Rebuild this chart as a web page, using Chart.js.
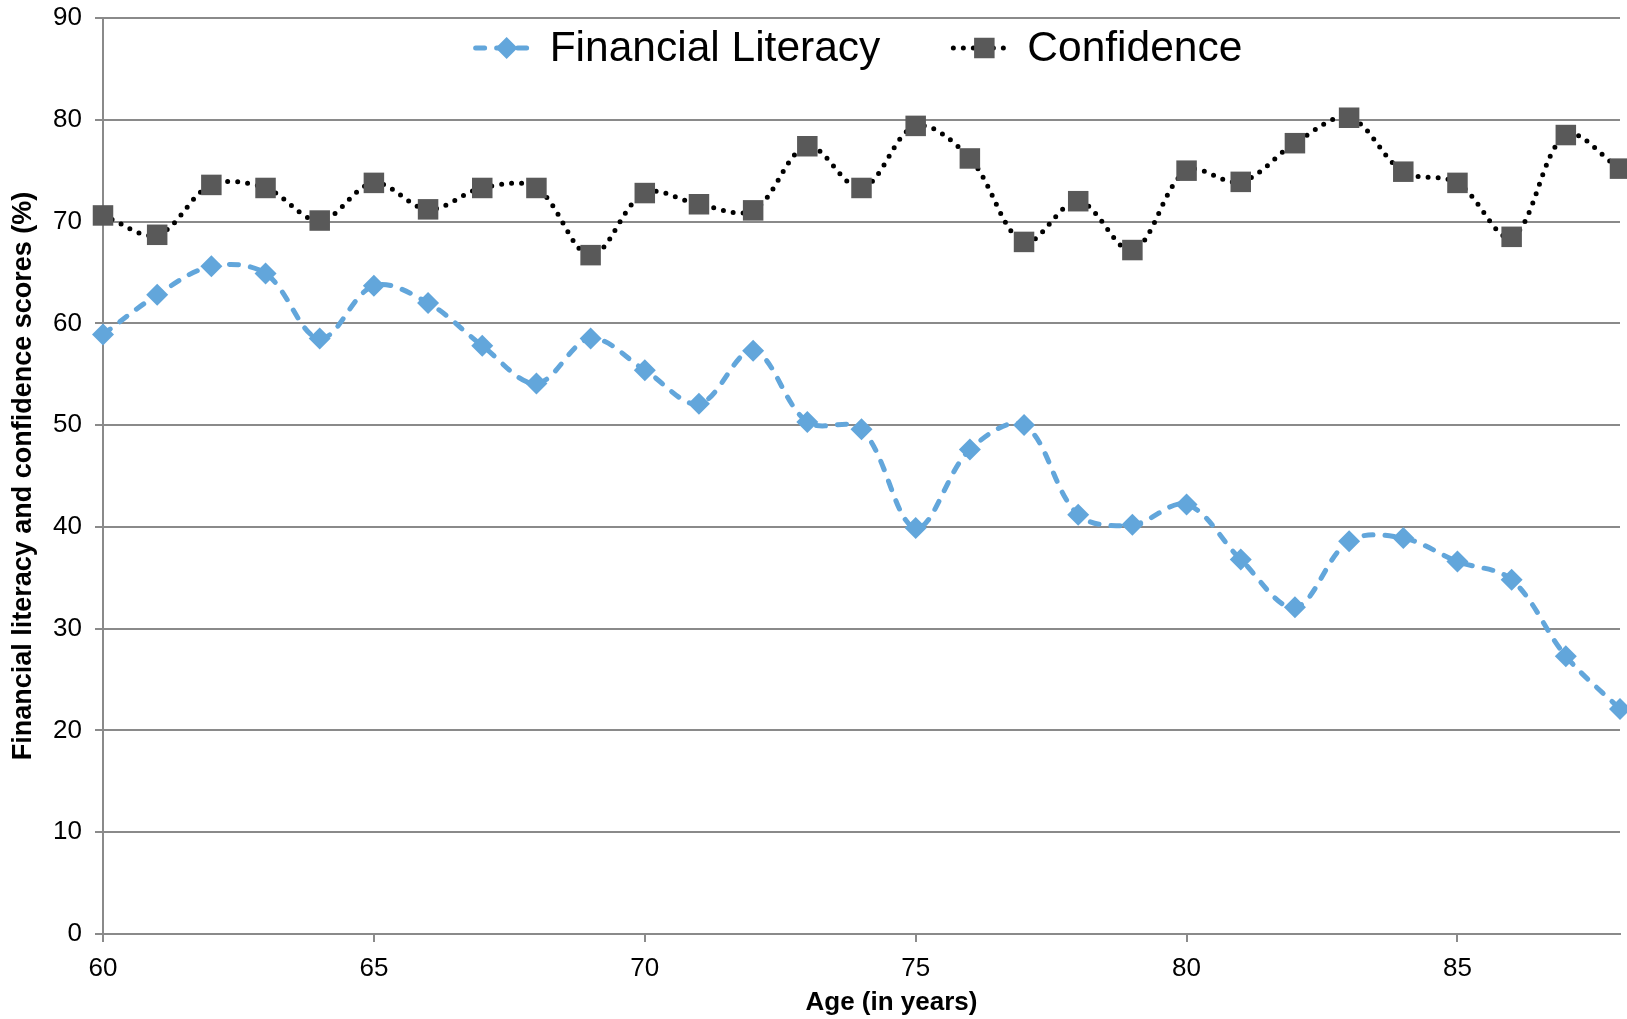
<!DOCTYPE html>
<html>
<head>
<meta charset="utf-8">
<title>Financial literacy and confidence by age</title>
<script src="https://cdn.jsdelivr.net/npm/chart.js@4.4.1/dist/chart.umd.min.js"></script>
<style>
  html, body { margin: 0; padding: 0; background: #ffffff; overflow: hidden; }
  #wrap { position: relative; width: 1627px; height: 1019px; }
  #wrap canvas { display: block; }
</style>
</head>
<body>
<div id="wrap"><canvas id="chart"></canvas></div>
<script>
// Age in years (x values)
const ages = [60, 61, 62, 63, 64, 65, 66, 67, 68, 69, 70, 71, 72, 73, 74,
              75, 76, 77, 78, 79, 80, 81, 82, 83, 84, 85, 86, 87, 88];

// Financial literacy score (%) per age
const literacy = [58.9, 62.8, 65.6, 64.9, 58.5, 63.7, 62.0, 57.8, 54.1, 58.5, 55.4, 52.1, 57.3, 50.3, 49.6,
                  39.9, 47.6, 50.0, 41.2, 40.2, 42.2, 36.8, 32.1, 38.6, 38.9, 36.6, 34.8, 27.3, 22.1];

// Confidence score (%) per age
const confidence = [70.6, 68.7, 73.6, 73.3, 70.1, 73.8, 71.2, 73.3, 73.3, 66.7, 72.8, 71.7, 71.1, 77.4, 73.3,
                    79.4, 76.2, 68.0, 72.0, 67.2, 75.0, 73.9, 77.7, 80.2, 74.9, 73.8, 68.5, 78.5, 75.2];

// Axis tick labels
const xTickValues = [60, 65, 70, 75, 80, 85];
const yTickValues = [0, 10, 20, 30, 40, 50, 60, 70, 80, 90];

const seriesNames = ['Financial Literacy', 'Confidence'];
const xAxisTitle = 'Age (in years)';
const yAxisTitle = 'Financial literacy and confidence scores (%)';

const FONT = '"Liberation Sans", Arial, Helvetica, sans-serif';
const GRID = '#8a8a8a';
const BLUE = '#62a6db';
const DARK = '#595959';

function toPoints(values) {
  return ages.map((a, i) => ({ x: a, y: values[i] }));
}

// Legend drawn inside the plot (line sample + marker + label) and the x-axis title
const annotations = {
  id: 'annotations',
  afterDraw(chart) {
    const ctx = chart.ctx;
    const area = chart.chartArea;
    const sampleW = 62, boxGap = 15, itemGap = 70, cy = 48;
    ctx.save();
    ctx.font = '42.5px ' + FONT;
    const items = chart.data.datasets.map(ds => ({ ds, w: ctx.measureText(ds.label).width }));
    const total = items.reduce((s, it) => s + sampleW + boxGap + it.w, 0) + itemGap * (items.length - 1);
    let x = (area.left + area.right) / 2 - 4 - total / 2;
    items.forEach(it => {
      const ds = it.ds;
      ctx.strokeStyle = ds.borderColor;
      ctx.lineWidth = ds.borderWidth;
      ctx.lineCap = ds.borderCapStyle;
      ctx.setLineDash(ds.borderDash);
      ctx.beginPath();
      ctx.moveTo(x + 3, cy);
      ctx.lineTo(x + sampleW - 3, cy);
      ctx.stroke();
      ctx.setLineDash([]);
      const mx = x + sampleW / 2 + 3;
      const r = ds.pointRadius;
      ctx.fillStyle = ds.pointBackgroundColor;
      ctx.beginPath();
      if (ds.pointStyle === 'rectRot') {
        ctx.moveTo(mx - r, cy); ctx.lineTo(mx, cy - r); ctx.lineTo(mx + r, cy); ctx.lineTo(mx, cy + r);
      } else {
        const h = r * Math.SQRT1_2;
        ctx.rect(mx - h, cy - h, 2 * h, 2 * h);
      }
      ctx.closePath();
      ctx.fill();
      ctx.fillStyle = '#000000';
      ctx.textBaseline = 'middle';
      ctx.textAlign = 'left';
      ctx.fillText(ds.label, x + sampleW + boxGap, cy + 1);
      x += sampleW + boxGap + it.w + itemGap;
    });

    // x-axis title, set a little right of the plot centre
    ctx.font = 'bold 26px ' + FONT;
    ctx.textAlign = 'center';
    ctx.textBaseline = 'middle';
    ctx.fillText(xAxisTitle, (area.left + area.right) / 2 + 30, 1003);
    ctx.restore();
  }
};

new Chart(document.getElementById('chart'), {
  type: 'line',
  data: {
    datasets: [
      {
        label: seriesNames[0],
        data: toPoints(literacy),
        borderColor: BLUE,
        borderWidth: 5,
        borderDash: [9, 12],
        borderCapStyle: 'round',
        tension: 0.35,
        pointStyle: 'rectRot',
        pointRadius: 11,
        pointBackgroundColor: BLUE,
        pointBorderWidth: 0,
        clip: false
      },
      {
        label: seriesNames[1],
        data: toPoints(confidence),
        borderColor: '#000000',
        borderWidth: 5,
        borderDash: [0, 10],
        borderCapStyle: 'round',
        tension: 0.35,
        pointStyle: 'rect',
        pointRadius: 14.5,
        pointBackgroundColor: DARK,
        pointBorderWidth: 0,
        clip: false
      }
    ]
  },
  options: {
    responsive: true,
    maintainAspectRatio: false,
    animation: false,
    devicePixelRatio: 1,
    events: [],
    layout: { autoPadding: false, padding: { left: 0, right: 7, top: 18, bottom: 0 } },
    plugins: {
      legend: { display: false },
      tooltip: { enabled: false }
    },
    scales: {
      x: {
        type: 'linear',
        min: 60,
        max: 88,
        afterBuildTicks: s => { s.ticks = xTickValues.map(v => ({ value: v })); },
        afterFit: s => { s.height = 85; s.paddingRight = 0; },
        grid: { display: true, drawOnChartArea: false, drawTicks: true, tickLength: 8, color: GRID, lineWidth: 2 },
        border: { display: true, color: GRID, width: 2 },
        ticks: { color: '#000000', padding: 11, font: { family: FONT, size: 26 } },
        title: { display: false }
      },
      y: {
        type: 'linear',
        min: 0,
        max: 90,
        afterBuildTicks: s => { s.ticks = yTickValues.map(v => ({ value: v })); },
        afterFit: s => { s.width = 103; s.paddingTop = 0; s.paddingBottom = 0; },
        grid: { display: true, drawTicks: true, tickLength: 8, color: GRID, lineWidth: 2 },
        border: { display: true, color: GRID, width: 2 },
        ticks: { color: '#000000', padding: 13, font: { family: FONT, size: 26 } },
        title: {
          display: true,
          text: yAxisTitle,
          color: '#000000',
          font: { family: FONT, size: 27, weight: 'bold' },
          padding: { top: 7, bottom: 0 }
        }
      }
    }
  },
  plugins: [annotations]
});
</script>
</body>
</html>
